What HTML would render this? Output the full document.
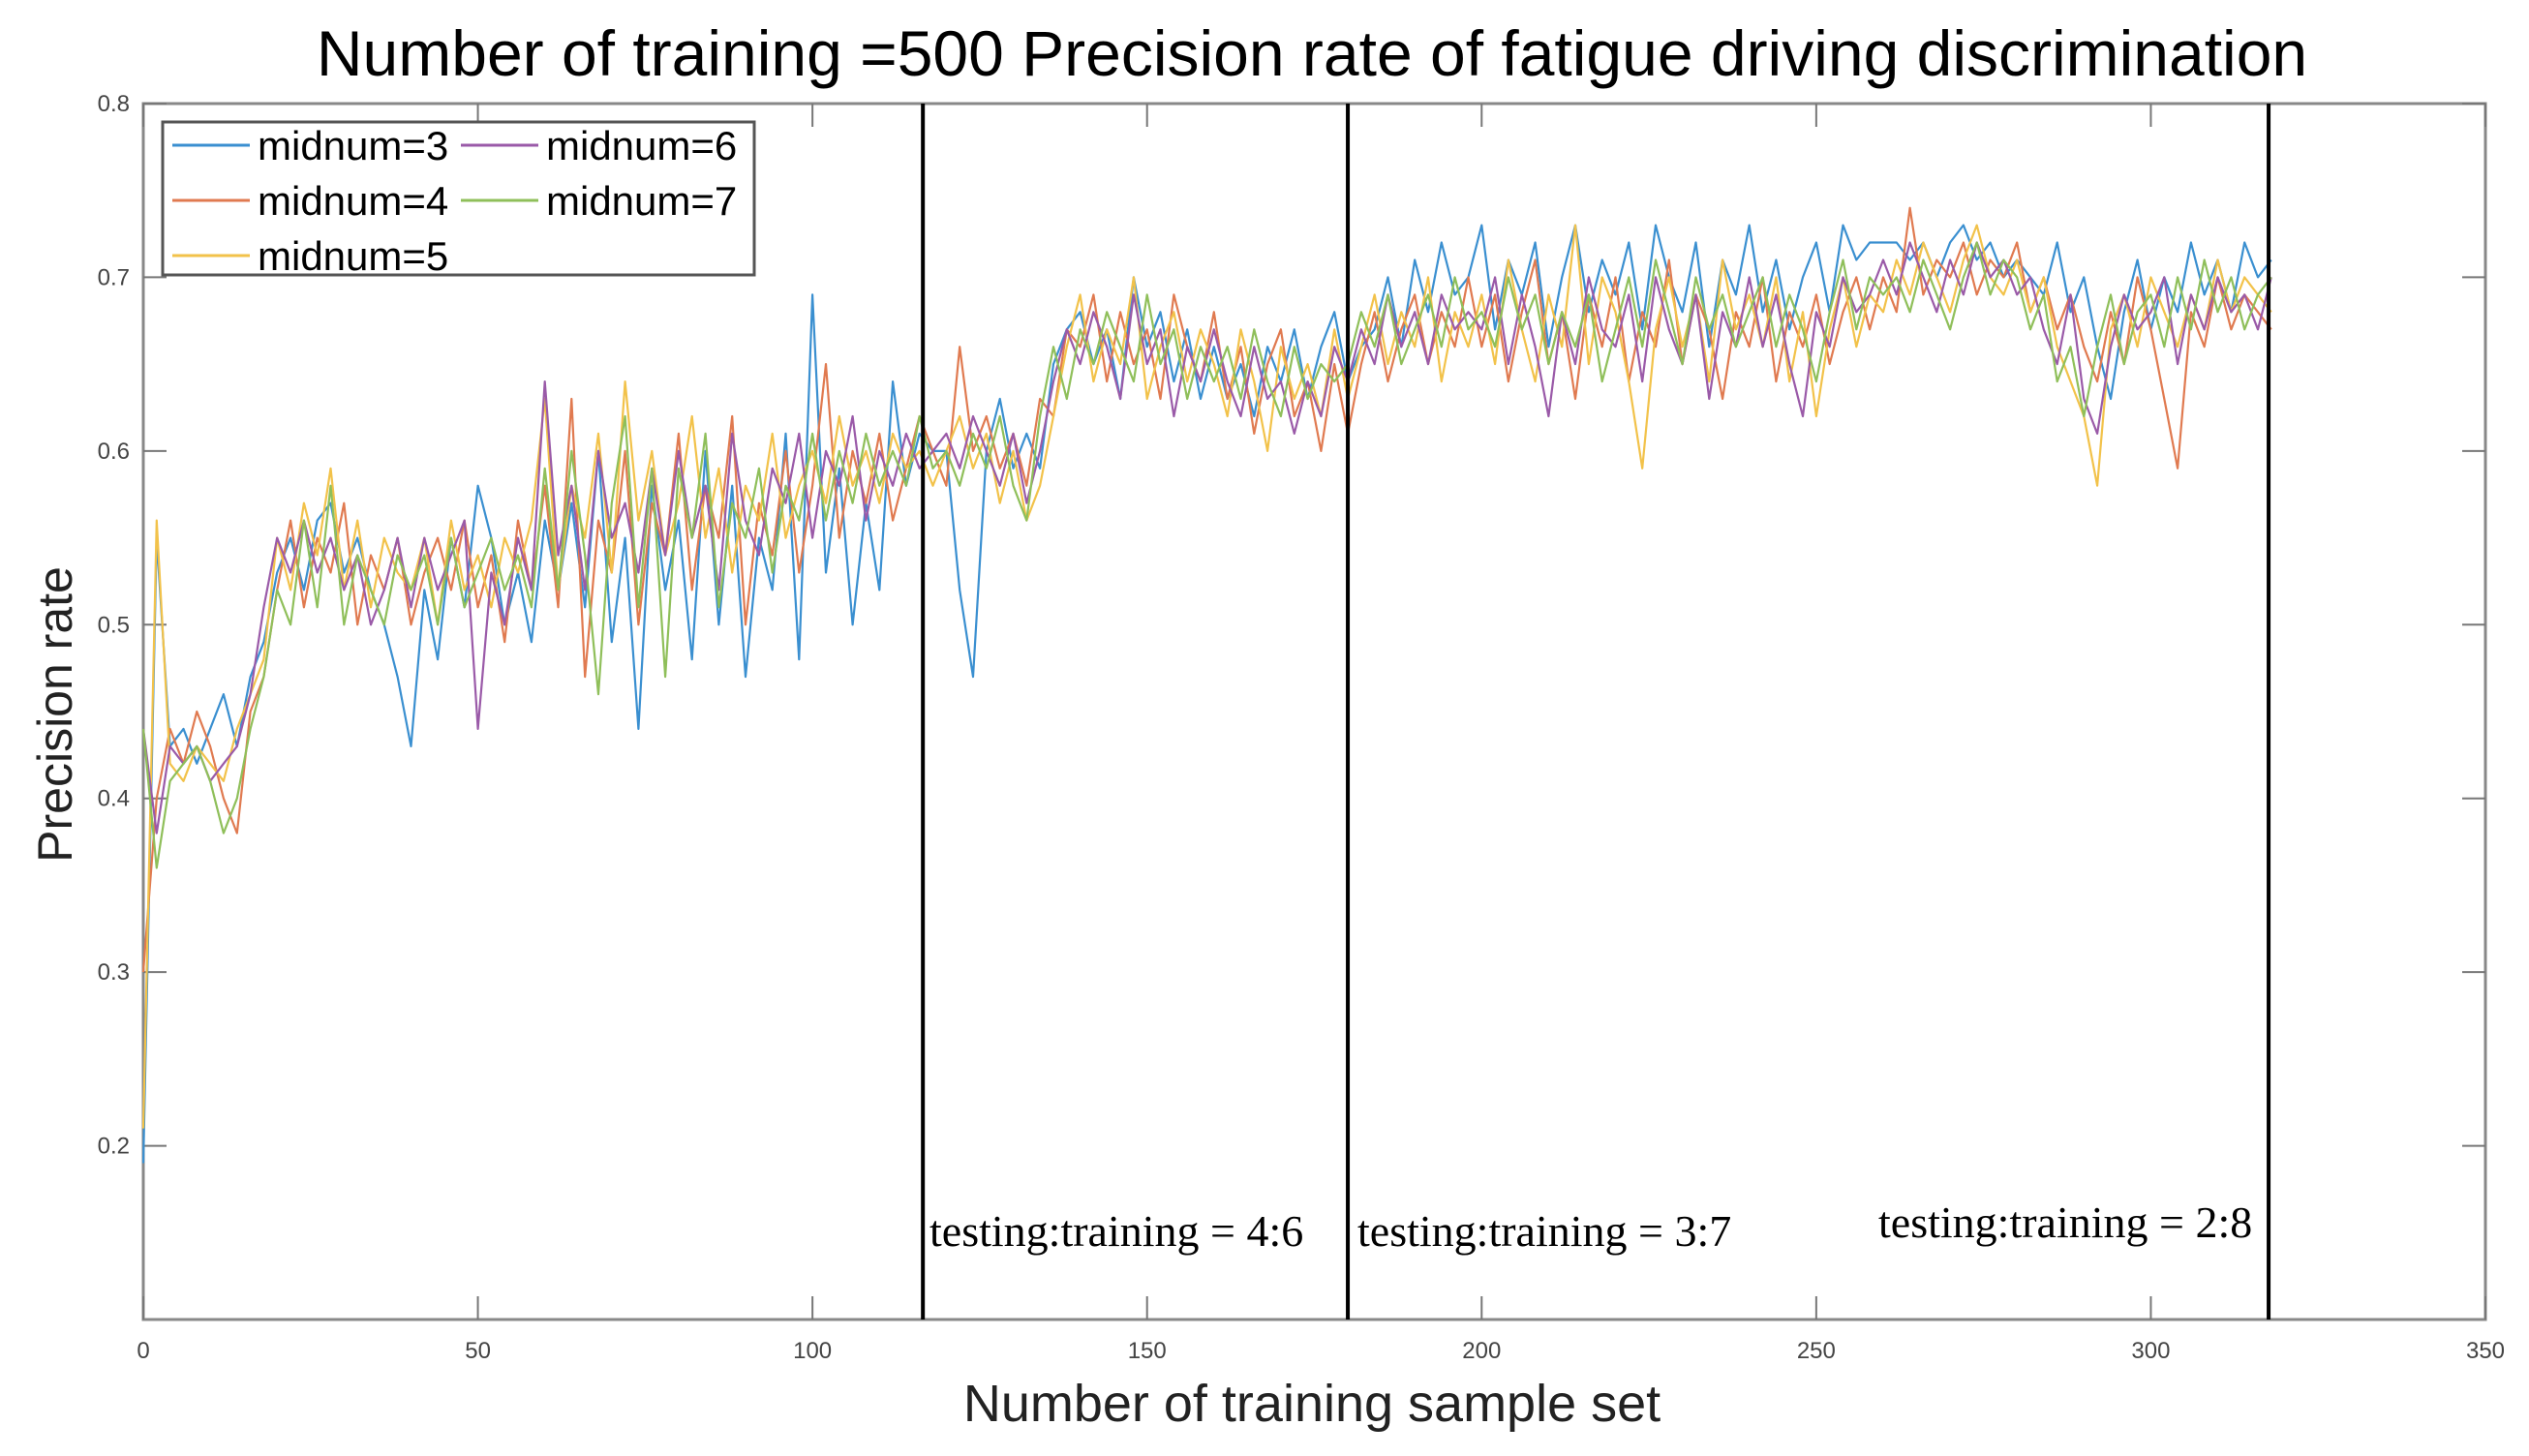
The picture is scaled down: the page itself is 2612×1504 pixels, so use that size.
<!DOCTYPE html>
<html><head><meta charset="utf-8"><style>
html,body{margin:0;padding:0;background:#fff;}
svg{display:block;font-family:"Liberation Sans",sans-serif;}
</style></head><body>
<svg id="chart" width="2612" height="1504" viewBox="0 0 2612 1504" xmlns="http://www.w3.org/2000/svg">
<rect x="0" y="0" width="2612" height="1504" fill="#fff"/>
<text x="1355" y="78" font-size="66" text-anchor="middle" fill="#000">Number of training =500 Precision rate of fatigue driving discrimination</text>
<g id="plot"></g>
<text transform="translate(74,738) rotate(-90)" font-size="50" text-anchor="middle" fill="#222">Precision rate</text>
<text x="1355" y="1468" font-size="54" text-anchor="middle" fill="#222">Number of training sample set</text>
</svg>
<script>
const xTicks=[0,50,100,150,200,250,300,350];
const yTicks=[0.2,0.3,0.4,0.5,0.6,0.7,0.8];
const splitX=[116.5,180,317.6];
const splitLabels=["testing:training = 4:6","testing:training = 3:7","testing:training = 2:8"];
const seriesNames=["midnum=3","midnum=4","midnum=5","midnum=6","midnum=7"];
const xStep=2;
const s3=[0.19,0.55,0.43,0.44,0.42,0.44,0.46,0.43,0.47,0.49,0.53,0.55,0.52,0.56,0.57,0.53,0.55,0.52,0.50,0.47,0.43,0.52,0.48,0.55,0.51,0.58,0.55,0.50,0.53,0.49,0.56,0.52,0.57,0.51,0.60,0.49,0.55,0.44,0.58,0.52,0.56,0.48,0.60,0.50,0.58,0.47,0.55,0.52,0.61,0.48,0.69,0.53,0.59,0.50,0.57,0.52,0.64,0.58,0.61,0.60,0.60,0.52,0.47,0.60,0.63,0.59,0.61,0.59,0.65,0.67,0.68,0.65,0.67,0.63,0.70,0.66,0.68,0.64,0.67,0.63,0.66,0.63,0.65,0.62,0.66,0.64,0.67,0.63,0.66,0.68,0.64,0.66,0.67,0.70,0.66,0.71,0.68,0.72,0.69,0.70,0.73,0.67,0.71,0.69,0.72,0.66,0.70,0.73,0.68,0.71,0.69,0.72,0.67,0.73,0.70,0.68,0.72,0.66,0.71,0.69,0.73,0.68,0.71,0.67,0.70,0.72,0.68,0.73,0.71,0.72,0.72,0.72,0.71,0.72,0.70,0.72,0.73,0.71,0.72,0.70,0.71,0.70,0.69,0.72,0.68,0.70,0.66,0.63,0.68,0.71,0.67,0.70,0.68,0.72,0.69,0.71,0.68,0.72,0.70,0.71];
const s4=[0.30,0.40,0.44,0.42,0.45,0.43,0.40,0.38,0.45,0.47,0.52,0.56,0.51,0.55,0.53,0.57,0.50,0.54,0.52,0.55,0.50,0.53,0.55,0.52,0.56,0.51,0.54,0.49,0.56,0.52,0.58,0.51,0.63,0.47,0.56,0.53,0.60,0.50,0.57,0.54,0.61,0.52,0.58,0.55,0.62,0.50,0.57,0.54,0.60,0.53,0.58,0.65,0.55,0.60,0.57,0.61,0.56,0.59,0.62,0.60,0.58,0.66,0.60,0.62,0.59,0.61,0.58,0.63,0.62,0.67,0.66,0.69,0.64,0.68,0.65,0.67,0.63,0.69,0.66,0.64,0.68,0.63,0.66,0.61,0.65,0.67,0.62,0.64,0.60,0.65,0.61,0.65,0.68,0.64,0.67,0.69,0.65,0.68,0.66,0.70,0.66,0.69,0.64,0.68,0.71,0.65,0.68,0.63,0.69,0.66,0.70,0.64,0.68,0.66,0.71,0.65,0.69,0.67,0.63,0.68,0.66,0.70,0.64,0.68,0.66,0.69,0.65,0.68,0.70,0.67,0.70,0.68,0.74,0.69,0.71,0.70,0.72,0.69,0.71,0.70,0.72,0.68,0.70,0.67,0.69,0.66,0.64,0.68,0.65,0.70,0.67,0.63,0.59,0.68,0.66,0.70,0.67,0.69,0.68,0.67];
const s5=[0.21,0.56,0.42,0.41,0.43,0.42,0.41,0.44,0.46,0.48,0.55,0.52,0.57,0.54,0.59,0.52,0.56,0.51,0.55,0.53,0.52,0.55,0.50,0.56,0.52,0.54,0.51,0.55,0.53,0.56,0.63,0.52,0.58,0.55,0.61,0.53,0.64,0.56,0.60,0.54,0.57,0.62,0.55,0.59,0.53,0.58,0.56,0.61,0.55,0.58,0.60,0.57,0.62,0.58,0.60,0.57,0.61,0.59,0.60,0.58,0.60,0.62,0.59,0.61,0.57,0.60,0.56,0.58,0.62,0.66,0.69,0.64,0.67,0.65,0.70,0.63,0.66,0.68,0.64,0.67,0.65,0.62,0.67,0.64,0.60,0.66,0.63,0.65,0.62,0.67,0.63,0.66,0.69,0.65,0.68,0.66,0.70,0.64,0.68,0.66,0.69,0.65,0.71,0.67,0.64,0.69,0.66,0.73,0.65,0.70,0.68,0.64,0.59,0.67,0.70,0.66,0.69,0.64,0.71,0.67,0.69,0.66,0.70,0.64,0.68,0.62,0.67,0.70,0.66,0.69,0.68,0.71,0.69,0.72,0.70,0.68,0.71,0.73,0.70,0.69,0.71,0.68,0.70,0.66,0.64,0.62,0.58,0.67,0.69,0.66,0.70,0.68,0.66,0.69,0.67,0.71,0.68,0.70,0.69,0.68];
const s6=[0.44,0.38,0.43,0.42,0.43,0.41,0.42,0.43,0.46,0.51,0.55,0.53,0.56,0.53,0.55,0.52,0.54,0.50,0.52,0.55,0.51,0.55,0.52,0.54,0.56,0.44,0.53,0.50,0.55,0.52,0.64,0.54,0.58,0.52,0.60,0.55,0.57,0.53,0.59,0.54,0.60,0.55,0.58,0.52,0.61,0.56,0.54,0.59,0.57,0.61,0.55,0.60,0.58,0.62,0.56,0.60,0.58,0.61,0.59,0.60,0.61,0.59,0.62,0.60,0.58,0.61,0.57,0.60,0.64,0.67,0.65,0.68,0.66,0.63,0.69,0.65,0.67,0.62,0.66,0.64,0.67,0.64,0.62,0.66,0.63,0.64,0.61,0.64,0.62,0.66,0.64,0.67,0.65,0.69,0.66,0.68,0.65,0.69,0.67,0.68,0.67,0.70,0.65,0.69,0.66,0.62,0.68,0.65,0.70,0.67,0.66,0.69,0.64,0.70,0.67,0.65,0.69,0.63,0.68,0.66,0.70,0.66,0.69,0.65,0.62,0.68,0.66,0.70,0.68,0.69,0.71,0.69,0.72,0.70,0.68,0.71,0.69,0.72,0.70,0.71,0.69,0.70,0.67,0.65,0.69,0.63,0.61,0.66,0.69,0.67,0.68,0.70,0.65,0.69,0.67,0.70,0.68,0.69,0.67,0.70];
const s7=[0.44,0.36,0.41,0.42,0.43,0.41,0.38,0.40,0.44,0.47,0.52,0.50,0.56,0.51,0.58,0.50,0.54,0.52,0.50,0.54,0.52,0.54,0.50,0.55,0.51,0.53,0.55,0.52,0.54,0.51,0.59,0.52,0.60,0.54,0.46,0.57,0.62,0.51,0.59,0.47,0.59,0.55,0.61,0.51,0.57,0.55,0.59,0.53,0.58,0.56,0.61,0.56,0.60,0.57,0.61,0.58,0.60,0.58,0.62,0.59,0.60,0.58,0.61,0.59,0.62,0.58,0.56,0.62,0.66,0.63,0.67,0.65,0.68,0.66,0.64,0.69,0.65,0.67,0.63,0.66,0.64,0.66,0.63,0.67,0.64,0.62,0.66,0.63,0.65,0.64,0.65,0.68,0.66,0.69,0.65,0.67,0.69,0.66,0.70,0.67,0.68,0.66,0.70,0.67,0.69,0.65,0.68,0.66,0.69,0.64,0.67,0.70,0.66,0.71,0.68,0.65,0.70,0.67,0.69,0.66,0.68,0.70,0.66,0.69,0.67,0.64,0.68,0.71,0.67,0.70,0.69,0.70,0.68,0.71,0.69,0.67,0.70,0.72,0.69,0.71,0.70,0.67,0.69,0.64,0.66,0.62,0.66,0.69,0.65,0.68,0.69,0.66,0.70,0.67,0.71,0.68,0.70,0.67,0.69,0.70];
const seriesValues=[s3,s4,s5,s6,s7];
const colors=["#3a8fd0","#e07a50","#f2c24a","#9a5aa8","#8fbf5a"];

const L=148,R=2567,T=107,B=1363,xMin=0,xMax=350,yMin=0.1,yMax=0.8;
const sx=v=>L+(v-xMin)/(xMax-xMin)*(R-L);
const sy=v=>B-(v-yMin)/(yMax-yMin)*(B-T);
const NS="http://www.w3.org/2000/svg";
const g=document.getElementById('plot');
function mk(tag,attrs,parent){const e=document.createElementNS(NS,tag);for(const k in attrs)e.setAttribute(k,attrs[k]);(parent||g).appendChild(e);return e;}

let box=mk('rect',{x:L,y:T,width:R-L,height:B-T,fill:'none',stroke:'#888','stroke-width':3});



xTicks.forEach(v=>{
  let t=mk('line',{x1:sx(v),x2:sx(v),y1:B,y2:B-24,stroke:'#777','stroke-width':2});
  
  
  let t2=mk('line',{x1:sx(v),x2:sx(v),y1:T,y2:T+24,stroke:'#777','stroke-width':2});
  
  
  let lb=mk('text',{x:sx(v),y:B+40,'font-size':24,'text-anchor':'middle',fill:'#444'});
  lb.textContent=String(v);
  
  
});
yTicks.forEach(v=>{
  let t=mk('line',{x1:L,x2:L+24,y1:sy(v),y2:sy(v),stroke:'#777','stroke-width':2});
  
  
  let t2=mk('line',{x1:R,x2:R-24,y1:sy(v),y2:sy(v),stroke:'#777','stroke-width':2});
  
  
  let lb=mk('text',{x:L-14,y:sy(v)+8,'font-size':24,'text-anchor':'end',fill:'#444'});
  lb.textContent=v.toFixed(1);
  
  
});

seriesValues.forEach((vals,si)=>{
  const pts=vals.map((v,i)=>sx(i*xStep).toFixed(1)+','+sy(v).toFixed(1)).join(' ');
  let p=mk('polyline',{points:pts,fill:'none',stroke:colors[si],'stroke-width':2.2,'stroke-linejoin':'round'});
  
  
});

const labelX=[960,1402,1940],labelY=[1287,1287,1278];
splitX.forEach((v,i)=>{
  let l=mk('line',{x1:sx(v),x2:sx(v),y1:T,y2:B,stroke:'#000','stroke-width':4});
  
  
  let tx=mk('text',{x:labelX[i],y:labelY[i],'font-size':46,fill:'#000','font-family':'"Liberation Serif",serif'});
  tx.textContent=splitLabels[i];
  
  
});

let lg=mk('g',{});


let lr=mk('rect',{x:168,y:126,width:611,height:158,fill:'#fff',stroke:'#555','stroke-width':3},lg);


const legPos=[[178,150],[178,207],[178,264],[476,150],[476,207]];
seriesNames.forEach((n,i)=>{
  const [lx,ly]=legPos[i];
  let ln=mk('line',{x1:lx,x2:lx+80,y1:ly,y2:ly,stroke:colors[i],'stroke-width':3},lg);
  
  
  let tx=mk('text',{x:lx+88,y:ly+15,'font-size':42,fill:'#000'},lg);
  tx.textContent=n;
  
  
});
</script>
</body></html>
